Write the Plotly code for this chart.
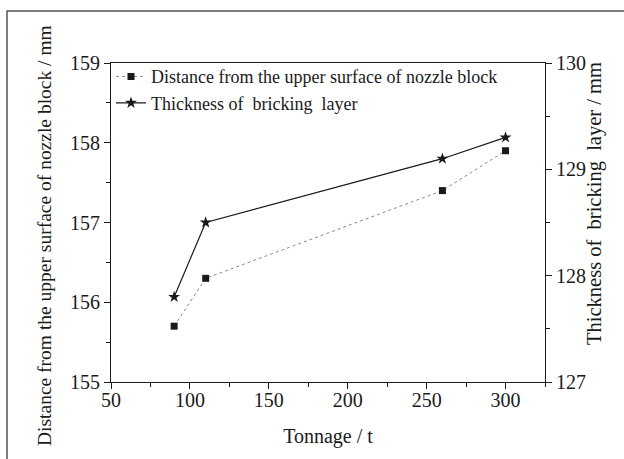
import plotly.graph_objects as go

tonnage = [90, 110, 260, 300]
distance_mm = [155.7, 156.3, 157.4, 157.9]
thickness_mm = [127.8, 128.5, 129.1, 129.3]

name_distance = "Distance from the upper surface of nozzle block"
name_thickness = "Thickness of\u00a0 bricking\u00a0 layer"
x_title = "Tonnage / t"
y1_title = "Distance from the upper surface of nozzle block / mm"
y2_title = "Thickness of\u00a0 bricking\u00a0 layer / mm"

FONT = "Liberation Serif, Times New Roman, serif"
INK = "#1a1a1a"

L, R, T, B = 111, 545, 63, 382
PW, PH = R - L, B - T


def px(x):
    return (x - L) / PW


def py(y):
    return (B - y) / PH


fig = go.Figure()
fig.add_trace(go.Scatter(
    x=tonnage, y=distance_mm, name=name_distance, mode="lines+markers",
    line=dict(color="#8a8a8a", width=1, dash="dot"),
    marker=dict(symbol="square", size=7, color=INK),
    yaxis="y",
))
fig.add_trace(go.Scatter(
    x=tonnage, y=thickness_mm, name=name_thickness, mode="lines+markers",
    line=dict(color=INK, width=1.2),
    marker=dict(symbol="star", size=9, color=INK),
    yaxis="y2",
))

axis_common = dict(
    showgrid=False, zeroline=False, showline=True, linecolor=INK, linewidth=1.2,
    ticks="outside", ticklen=6, tickwidth=1, tickcolor=INK,
    tickfont=dict(family=FONT, size=20, color=INK),
)
TITLE_FONT = dict(family=FONT, size=20, color=INK)

fig.update_layout(
    width=624, height=459,
    margin=dict(l=L, r=624 - R, t=T, b=459 - B),
    paper_bgcolor="white", plot_bgcolor="white",
    font=dict(family=FONT, size=18, color=INK),
    showlegend=True,
    legend=dict(x=0.0, y=1.015, xanchor="left", yanchor="top",
                bgcolor="rgba(0,0,0,0)", font=dict(family=FONT, size=18, color=INK),
                tracegroupgap=0, itemwidth=30),
    xaxis=dict(
        **axis_common, range=[50, 325], dtick=50, tick0=50, mirror=True,
        ticklabelstandoff=-6,
        minor=dict(ticks="outside", dtick=25, ticklen=4, tickcolor=INK),
        title=dict(text=x_title, font=TITLE_FONT, standoff=18),
    ),
    yaxis=dict(
        **axis_common, range=[155, 159], dtick=1, mirror=True,
        minor=dict(ticks="outside", dtick=0.5, ticklen=4, tickcolor=INK),
    ),
    yaxis2=dict(
        **axis_common, range=[127, 130], dtick=1, overlaying="y", side="right",
        minor=dict(ticks="outside", dtick=0.5, ticklen=4, tickcolor=INK),
    ),
    annotations=[
        dict(text=y1_title, xref="paper", yref="paper", x=px(44), y=py(236),
             textangle=-90, showarrow=False, font=dict(family=FONT, size=19.5, color=INK),
             xanchor="center", yanchor="middle"),
        dict(text=y2_title, xref="paper", yref="paper", x=px(594), y=py(204),
             textangle=-90, showarrow=False, font=dict(family=FONT, size=20.5, color=INK),
             xanchor="center", yanchor="middle"),
    ],
    shapes=[dict(type="rect", xref="paper", yref="paper",
                 x0=px(7), x1=1.4, y0=-0.4, y1=py(11),
                 line=dict(color="#555555", width=1.5), fillcolor="rgba(0,0,0,0)", layer="below")],
)

fig.write_html("out.html", config={"displayModeBar": False},
               post_script="document.body.style.margin='0px';document.body.style.overflow='hidden';")
